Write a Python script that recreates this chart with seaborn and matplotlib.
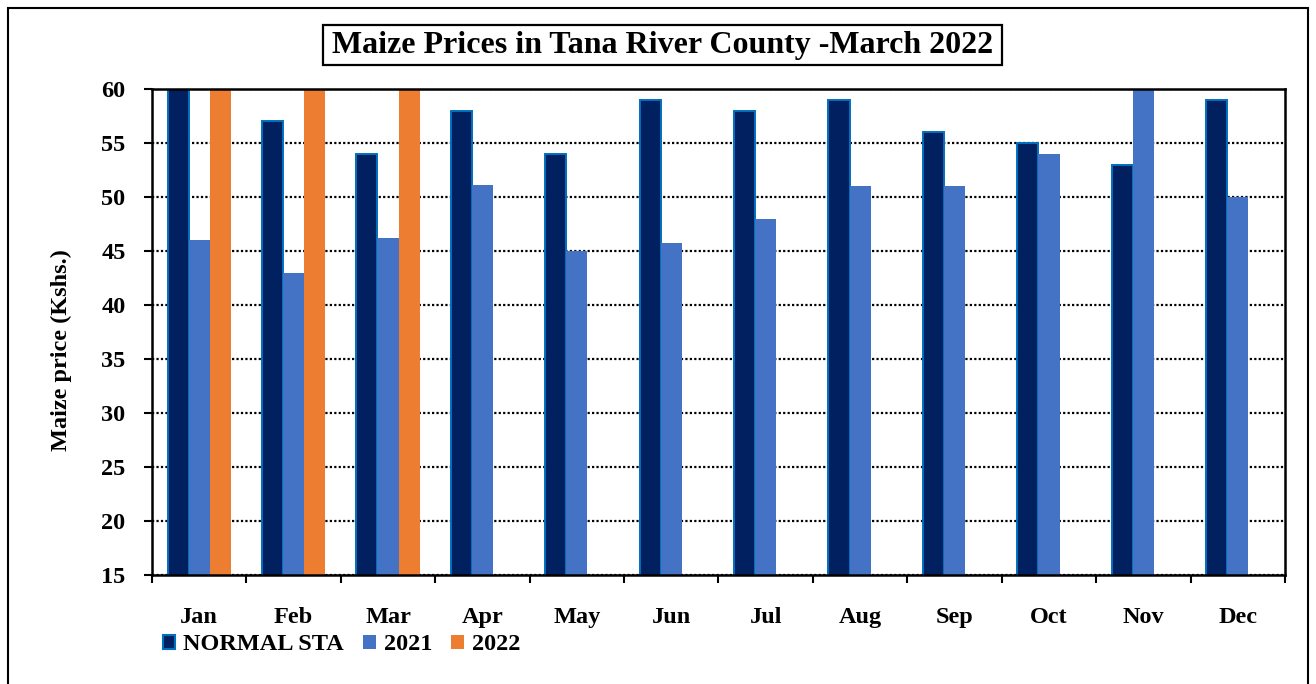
import matplotlib
matplotlib.use("Agg")
import matplotlib.pyplot as plt
from matplotlib.patches import Patch, Rectangle
from matplotlib.ticker import FixedLocator, MultipleLocator
import numpy as np
import pandas as pd
import seaborn as sns

# Monthly maize prices (Kshs.) per series
months = ["Jan", "Feb", "Mar", "Apr", "May", "Jun",
          "Jul", "Aug", "Sep", "Oct", "Nov", "Dec"]
normal_sta = [60, 57, 54, 58, 54, 59, 58, 59, 56, 55, 53, 59]
prices_2021 = [46, 43, 46.2, 51.1, 45, 45.7, 48, 51, 51, 54, 62, 50]
prices_2022 = [63, 64, 65] + [np.nan] * 9
series_names = ["NORMAL STA", "2021", "2022"]
series_colors = ["#002060", "#4472C4", "#ED7D31"]

df = pd.DataFrame({
    "month": months * 3,
    "price": normal_sta + prices_2021 + prices_2022,
    "series": [s for s in series_names for _ in months],
})

sns.set_theme(style="white")
plt.rcParams["font.family"] = ["Liberation Serif", "DejaVu Serif"]
plt.rcParams["font.weight"] = "bold"
for key in ["text.color", "axes.labelcolor", "xtick.color", "ytick.color"]:
    plt.rcParams[key] = "black"

W, H = 1316, 684
fig = plt.figure(figsize=(W / 100, H / 100), dpi=100)
ax = fig.add_axes([152 / W, 1 - 575 / H, (1285 - 152) / W, (575 - 89) / H])

sns.barplot(data=df, x="month", y="price", hue="series", order=months,
            hue_order=series_names, palette=series_colors, saturation=1,
            width=0.67, errorbar=None, legend=False, ax=ax)

# light blue outline on the normal-season bars
for bar in ax.containers[0]:
    bar.set_edgecolor("#0070C0")
    bar.set_linewidth(1.4)
for cont in ax.containers[1:]:
    for bar in cont:
        bar.set_linewidth(0)

ax.set_ylim(15, 60)
ax.set_xlim(-0.5, len(months) - 0.5)
ax.yaxis.set_major_locator(MultipleLocator(5))
ax.yaxis.grid(True, color="black", linestyle=(0, (1, 1)), linewidth=1.6)
ax.set_axisbelow(True)

# category separators as ticks, month names centred without ticks
ax.xaxis.set_minor_locator(FixedLocator(np.arange(-0.5, len(months), 1.0)))
ax.tick_params(axis="x", which="major", length=0, pad=23, labelsize=17.5,
               labelcolor="black")
ax.tick_params(axis="x", which="minor", length=6, width=1.5, color="black",
               direction="out", bottom=True)
ax.tick_params(axis="y", which="major", length=6, width=1.5, color="black",
               direction="out", left=True, pad=13, labelsize=17.5,
               labelcolor="black")
for lbl in ax.get_xticklabels() + ax.get_yticklabels():
    lbl.set_fontweight("bold")

ax.set_xlabel("")
ax.set_ylabel("Maize price (Kshs.)", fontsize=17.5, fontweight="bold",
              color="black")
ax.yaxis.set_label_coords((72 - 152) / (1285 - 152), (575 - 350) / (575 - 89))

for side in ["left", "bottom", "right", "top"]:
    ax.spines[side].set_visible(True)
    ax.spines[side].set_color("black")
    ax.spines[side].set_linewidth(1.8)

# title in a framed box
fig.text(662.5 / W, 1 - 46 / H, "Maize Prices in Tana River County -March 2022",
         ha="center", va="center", fontsize=23, fontweight="bold", color="black")
fig.patches.append(Rectangle((323 / W, 1 - 65 / H), (1002 - 323) / W, 40 / H,
                             transform=fig.transFigure, fill=False,
                             edgecolor="black", linewidth=1.6))

# legend below the axis
handles = [
    Patch(facecolor=series_colors[0], edgecolor="#0070C0", linewidth=1.5),
    Patch(facecolor=series_colors[1], edgecolor="none"),
    Patch(facecolor=series_colors[2], edgecolor="none"),
]
fig.legend(handles, series_names, loc="center left",
           bbox_to_anchor=(163 / W, 1 - 645 / H), ncol=3,
           frameon=False, handlelength=0.5, handleheight=0.5,
           handletextpad=0.33, columnspacing=0.8, borderpad=0,
           borderaxespad=0, labelcolor="black",
           prop={"weight": "bold", "size": 17.5})

# outer chart border
fig.patches.append(Rectangle((8 / W, -0.05), 1300 / W, 1.05 - 8 / H,
                             transform=fig.transFigure, fill=False,
                             edgecolor="black", linewidth=1.5))

fig.savefig("out.png", dpi=100)
